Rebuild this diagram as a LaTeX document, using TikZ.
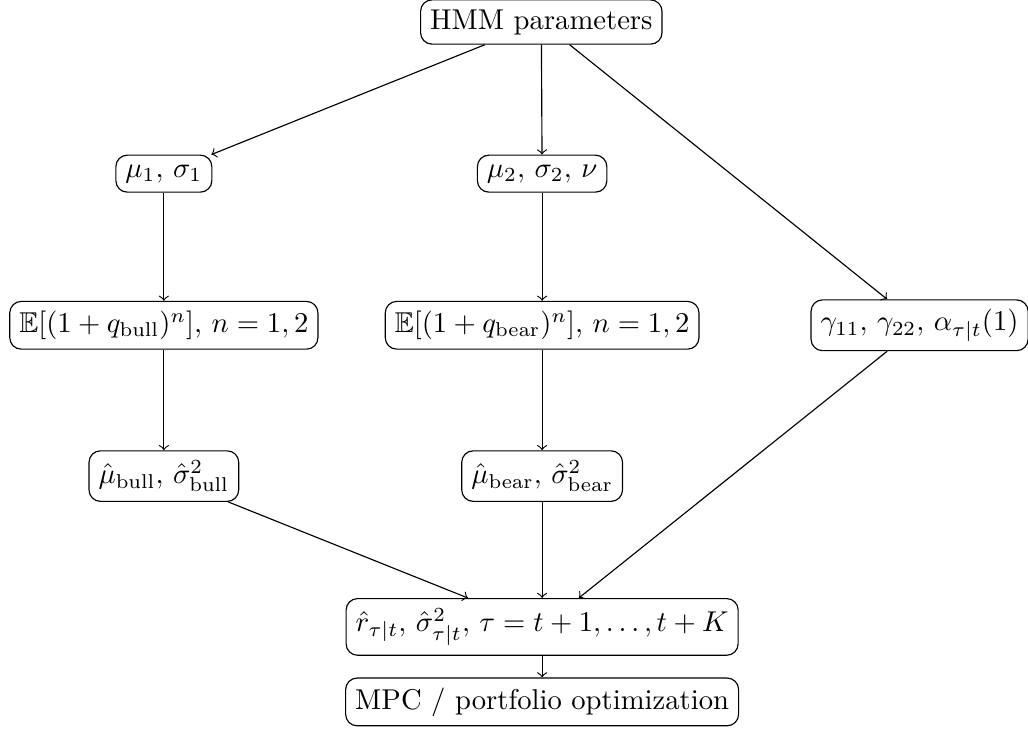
\documentclass[tikz,border=0pt]{standalone}
\usepackage{amsmath}
\usepackage{amssymb}
\usepackage{tikz}
\usetikzlibrary{positioning}

\begin{document}
\begin{tikzpicture}[
        block/.style={
            rectangle,
            draw,
            rounded corners=4pt,
            align=center
        },
        arrow/.style={
            ->
        }
    ]
        \useasboundingbox (0,0) rectangle (12.61,-8.97);

        % Nodes (one row every 1.86cm)
        \node[block] (hmm) at (6.64, -0.27) {HMM parameters};
        \node[block] (bullpar) at (2.01, -2.13) {$\mu_1,\, \sigma_1$};
        \node[block] (bearpar) at (6.65, -2.13) {$\mu_2,\, \sigma_2,\, \nu$};
        \node[block] (bullmom) at (2.01, -3.99) {$\mathbb{E}[(1+q_{\mathrm{bull}})^n],\, n=1,2$};
        \node[block] (bearmom) at (6.65, -3.99) {$\mathbb{E}[(1+q_{\mathrm{bear}})^n],\, n=1,2$};
        \node[block] (trans) at (11.28, -3.99) {$\gamma_{11},\, \gamma_{22},\, \alpha_{\tau|t}(1)$};
        \node[block] (bullest) at (2.01, -5.84) {$\hat{\mu}_{\mathrm{bull}},\, \hat{\sigma}^2_{\mathrm{bull}}$};
        \node[block] (bearest) at (6.65, -5.84) {$\hat{\mu}_{\mathrm{bear}},\, \hat{\sigma}^2_{\mathrm{bear}}$};
        \node[block] (pred) at (6.65, -7.69) {$\hat{r}_{\tau|t},\, \hat{\sigma}^2_{\tau|t},\, \tau=t+1,\ldots,t+K$};
        \node[block] (mpc) at (6.65, -8.61) {MPC / portfolio optimization};

        % Arrows
        \draw[arrow] (hmm) -- (bullpar);
        \draw[arrow] (hmm) -- (bearpar);
        \draw[arrow] (hmm) -- (trans);
        \draw[arrow] (bullpar) -- (bullmom);
        \draw[arrow] (bearpar) -- (bearmom);
        \draw[arrow] (bullmom) -- (bullest);
        \draw[arrow] (bearmom) -- (bearest);
        \draw[arrow] (bullest) -- ([xshift=-0.91cm]pred.north);
        \draw[arrow] (bearest) -- (pred);
        \draw[arrow] (trans) -- ([xshift=0.45cm]pred.north);
        \draw[arrow] (pred) -- (mpc);
    \end{tikzpicture}
\end{document}
